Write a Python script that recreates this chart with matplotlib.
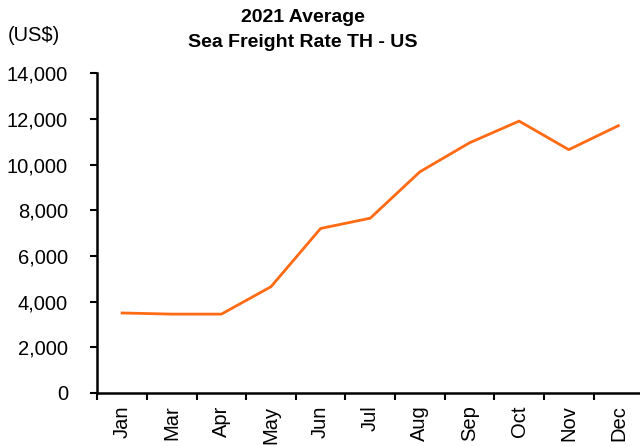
import numpy as np
import matplotlib.pyplot as plt

plt.rcParams['font.family'] = ['Liberation Sans', 'DejaVu Sans']

months = ['Jan', 'Mar', 'Apr', 'May', 'Jun', 'Jul', 'Aug', 'Sep', 'Oct', 'Nov', 'Dec']
rates = [3500, 3450, 3450, 4650, 7200, 7650, 9680, 10950, 11900, 10650, 11700]
yticks = [0, 2000, 4000, 6000, 8000, 10000, 12000, 14000]

fig = plt.figure(figsize=(6.4, 4.46), dpi=100)
ax = fig.add_axes([0.152, 0.119, 0.853, 0.717])

x = np.arange(len(months))
ax.plot(x, rates, color='#FF6A13', linewidth=2)

ax.set_xlim(-0.5, len(months) - 0.5)
ax.set_ylim(0, 14000)
ax.set_yticks(yticks)
ax.set_yticklabels([f'{v:,}' for v in yticks], fontsize=14.5)

ax.set_xticks(x)
ax.set_xticklabels(months, rotation=90, fontsize=14.5)
ax.tick_params(axis='x', which='major', length=0, pad=9)
ax.set_xticks(np.arange(len(months) + 1) - 0.5, minor=True)
ax.tick_params(axis='x', which='minor', length=5, width=1.5, direction='out')
ax.tick_params(axis='y', length=5, width=1.5, direction='out', pad=16)

for s in ['top', 'right']:
    ax.spines[s].set_visible(False)
for s in ['left', 'bottom']:
    ax.spines[s].set_linewidth(1.8)

fig.text(0.473, 0.960, '2021 Average', ha='center', va='center', fontsize=14, fontweight='bold')
fig.text(0.473, 0.904, 'Sea Freight Rate TH - US', ha='center', va='center', fontsize=14, fontweight='bold')
fig.text(0.012, 0.92, '(US$)', ha='left', va='center', fontsize=14.5)

fig.savefig('out.png', dpi=100)
